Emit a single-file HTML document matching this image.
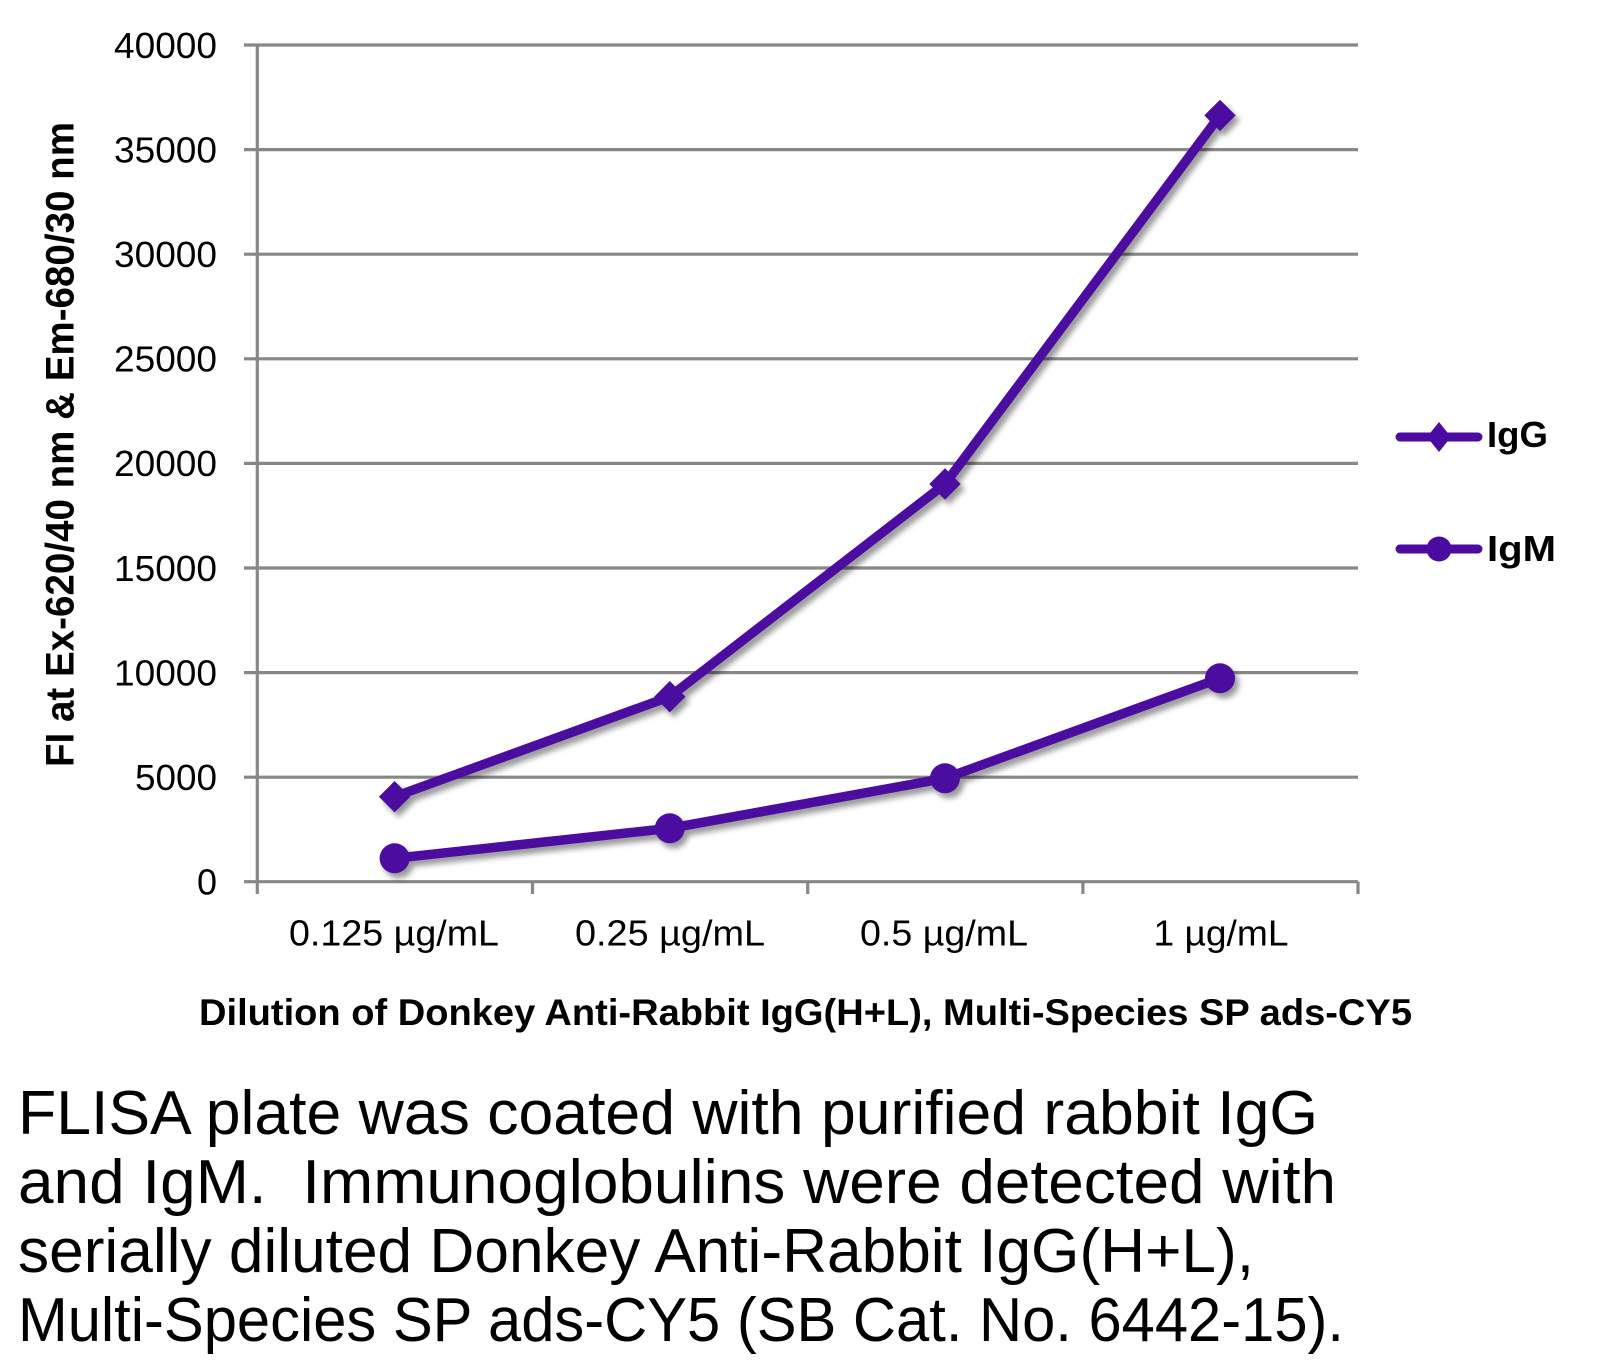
<!DOCTYPE html>
<html><head><meta charset="utf-8"><style>
html,body{margin:0;padding:0;background:#fff;}
svg{display:block;}
text{font-family:"Liberation Sans",sans-serif;fill:#000;}
</style></head><body>
<svg width="1605" height="1367" viewBox="0 0 1605 1367" xmlns="http://www.w3.org/2000/svg">
<defs>
<filter id="sh" x="-10%" y="-10%" width="130%" height="130%">
<feDropShadow dx="4" dy="5" stdDeviation="3" flood-color="#000" flood-opacity="0.4"/>
</filter>
</defs>
<rect width="1605" height="1367" fill="#fff"/>
<g stroke="#878787" stroke-width="3.2" fill="none">
<line x1="244" y1="45" x2="1358" y2="45"/>
<line x1="244" y1="149.6" x2="1358" y2="149.6"/>
<line x1="244" y1="254.2" x2="1358" y2="254.2"/>
<line x1="244" y1="358.8" x2="1358" y2="358.8"/>
<line x1="244" y1="463.4" x2="1358" y2="463.4"/>
<line x1="244" y1="568" x2="1358" y2="568"/>
<line x1="244" y1="672.6" x2="1358" y2="672.6"/>
<line x1="244" y1="777.2" x2="1358" y2="777.2"/>
<line x1="244" y1="881.7" x2="1358" y2="881.7"/>
<line x1="257.3" y1="45" x2="257.3" y2="894"/>
<line x1="532.5" y1="881.7" x2="532.5" y2="894"/>
<line x1="807.7" y1="881.7" x2="807.7" y2="894"/>
<line x1="1082.9" y1="881.7" x2="1082.9" y2="894"/>
<line x1="1358" y1="881.7" x2="1358" y2="894"/>
</g>
<g font-size="36" text-anchor="end">
<text x="217" y="57.8" textLength="103" lengthAdjust="spacingAndGlyphs">40000</text>
<text x="217" y="162.4" textLength="103" lengthAdjust="spacingAndGlyphs">35000</text>
<text x="217" y="267" textLength="103" lengthAdjust="spacingAndGlyphs">30000</text>
<text x="217" y="371.6" textLength="103" lengthAdjust="spacingAndGlyphs">25000</text>
<text x="217" y="476.2" textLength="103" lengthAdjust="spacingAndGlyphs">20000</text>
<text x="217" y="580.8" textLength="103" lengthAdjust="spacingAndGlyphs">15000</text>
<text x="217" y="685.4" textLength="103" lengthAdjust="spacingAndGlyphs">10000</text>
<text x="217" y="790" textLength="82" lengthAdjust="spacingAndGlyphs">5000</text>
<text x="217" y="894.5" textLength="20" lengthAdjust="spacingAndGlyphs">0</text>
</g>
<g font-size="36" text-anchor="middle">
<text x="394" y="945.5" textLength="210" lengthAdjust="spacingAndGlyphs">0.125 µg/mL</text>
<text x="670" y="945.5" textLength="190" lengthAdjust="spacingAndGlyphs">0.25 µg/mL</text>
<text x="944" y="945.5" textLength="168" lengthAdjust="spacingAndGlyphs">0.5 µg/mL</text>
<text x="1221" y="945.5" textLength="135" lengthAdjust="spacingAndGlyphs">1 µg/mL</text>
</g>
<text x="805.5" y="1025" font-size="37" font-weight="bold" text-anchor="middle" textLength="1213" lengthAdjust="spacingAndGlyphs">Dilution of Donkey Anti-Rabbit IgG(H+L), Multi-Species SP ads-CY5</text>
<text transform="translate(73.5,444.5) rotate(-90)" x="0" y="0" font-size="40" font-weight="bold" text-anchor="middle" textLength="645" lengthAdjust="spacingAndGlyphs">FI at Ex-620/40 nm &amp; Em-680/30 nm</text>
<g filter="url(#sh)">
<polyline points="394.6,796.7 669.8,696.7 945,484 1220,115.4" fill="none" stroke="#4B0BA0" stroke-width="9.5" stroke-linejoin="round"/>
<g fill="#4B0BA0">
<polygon points="394.6,781 410.3,796.7 394.6,812.4 378.9,796.7"/>
<polygon points="669.8,681 685.5,696.7 669.8,712.4 654.1,696.7"/>
<polygon points="945,468.3 960.7,484 945,499.7 929.3,484"/>
<polygon points="1220,99.7 1235.7,115.4 1220,131.1 1204.3,115.4"/>
</g>
<polyline points="394.6,858.3 669.8,828.3 945,778.3 1220,678.3" fill="none" stroke="#4B0BA0" stroke-width="9.5" stroke-linejoin="round"/>
<g fill="#4B0BA0">
<circle cx="394.6" cy="858.3" r="15"/>
<circle cx="669.8" cy="828.3" r="15"/>
<circle cx="945" cy="778.3" r="15"/>
<circle cx="1220" cy="678.3" r="15"/>
</g>
</g>
<g stroke="#4B0BA0" stroke-width="9" stroke-linecap="round">
<line x1="1400" y1="437" x2="1478" y2="437"/>
<line x1="1400" y1="549" x2="1478" y2="549"/>
</g>
<g fill="#4B0BA0">
<polygon points="1439,422 1451,437 1439,452 1427,437"/>
<circle cx="1439" cy="549" r="12.5"/>
</g>
<g font-size="36" font-weight="bold">
<text x="1487" y="447" textLength="61" lengthAdjust="spacingAndGlyphs">IgG</text>
<text x="1487" y="561" textLength="69" lengthAdjust="spacingAndGlyphs">IgM</text>
</g>
<g font-size="62">
<text x="18" y="1134" textLength="1300" lengthAdjust="spacingAndGlyphs">FLISA plate was coated with purified rabbit IgG</text>
<text x="18" y="1203" textLength="1318" lengthAdjust="spacingAndGlyphs">and IgM.&#160; Immunoglobulins were detected with</text>
<text x="18" y="1272" textLength="1236" lengthAdjust="spacingAndGlyphs">serially diluted Donkey Anti-Rabbit IgG(H+L),</text>
<text x="18" y="1341" textLength="1326" lengthAdjust="spacingAndGlyphs">Multi-Species SP ads-CY5 (SB Cat. No. 6442-15).</text>
</g>
</svg>
</body></html>
